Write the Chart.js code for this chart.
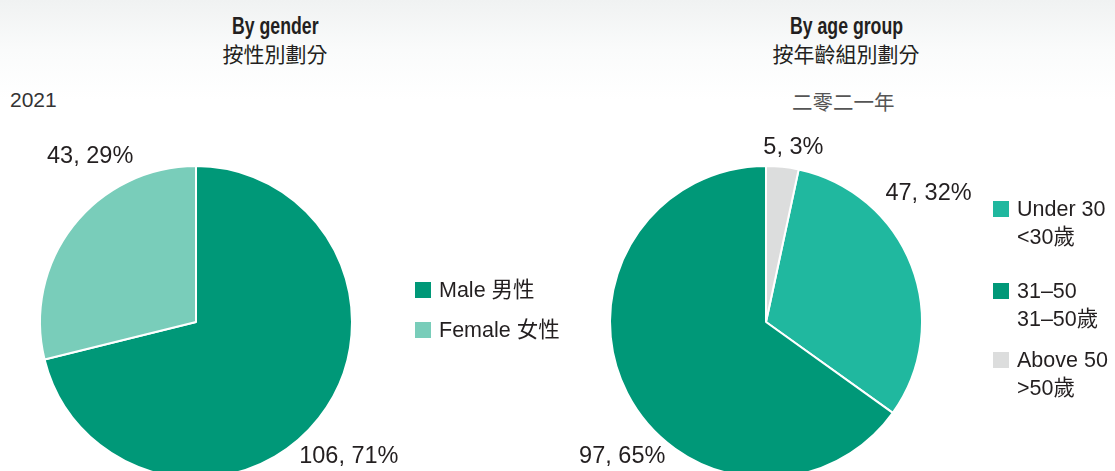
<!DOCTYPE html>
<html>
<head>
<meta charset="utf-8">
<script src="https://cdn.jsdelivr.net/npm/chart.js@4.4.0/dist/chart.umd.min.js"></script>
<style>
    html, body {
        margin: 0;
        padding: 0;
        width: 1115px;
        height: 471px;
        overflow: hidden;
        background: linear-gradient(#f0f2f2 0px, #fafbfb 50px, #ffffff 100px);
        font-family: "Liberation Sans", "Noto Sans CJK TC", sans-serif;
        color: #231f20;
    }
    canvas {
        position: absolute;
        top: 0;
    }
    .title {
        position: absolute;
        top: 14px;
        width: 300px;
        text-align: center;
        line-height: 24px;
    }
    .title .en {
        display: inline-block;
        font-family: "Liberation Sans", sans-serif;
        font-weight: bold;
        font-size: 23px;
        transform: scaleX(0.77);
    }
    .title .zh {
        font-family: "Noto Sans CJK TC", sans-serif;
        font-size: 21px;
    }
    .year {
        position: absolute;
        font-size: 21px;
        color: #333;
    }
    .legend-item {
        position: absolute;
        font-size: 21.5px;
        line-height: 28px;
        color: #231f20;
    }
    .legend-item .swatch {
        position: absolute;
        left: 0;
        top: 6px;
        width: 16px;
        height: 16px;
    }
    .legend-item .text {
        margin-left: 24px;
        white-space: nowrap;
    }
</style>
</head>
<body>
<div class="title" style="left: 125px;"><div class="en">By gender</div><div class="zh">按性別劃分</div></div>
<div class="title" style="left: 696px;"><div class="en">By age group</div><div class="zh">按年齡組別劃分</div></div>
<div class="year" style="left: 10px; top: 88px;">2021</div>
<div class="year" style="left: 792px; top: 86px; font-family: 'Noto Sans CJK TC'; font-size: 20.5px; color: #555;">二零二一年</div>

<canvas id="gender-chart" width="560" height="520" style="left: 0px;"></canvas>
<canvas id="age-chart" width="555" height="520" style="left: 560px;"></canvas>

<div id="gender-legend"></div>
<div id="age-legend"></div>

<script>
// Data
const genderLabels = ['Male 男性', 'Female 女性'];
const genderValues = [106, 43];
const genderPercents = [71, 29];

const ageLabelsEn = ['Under 30', '31–50', 'Above 50'];
const ageLabelsZh = ['<30歲', '31–50歲', '>50歲'];
const ageValues = [47, 97, 5];
const agePercents = [32, 65, 3];

// Styles
const genderColors = ['#009878', '#79cdba'];
const ageColors = ['#20b89f', '#009878', '#dcdddd'];

// where each value label sits, relative to the middle of its arc's rim
const genderLabelNudge = [[30, 45], [17, -63]];
const ageLabelNudge = [[17, -66], [-5, 70], [11, -13]];

const genderLegendTops = [282, 322];
const ageLegendTops = [195, 277, 346];

const valueLabelsPlugin = {
    id: 'valueLabels',
    afterDatasetsDraw(chart, args, opts) {
        const ctx = chart.ctx;
        const meta = chart.getDatasetMeta(0);
        const values = chart.data.datasets[0].data;

        ctx.save();
        ctx.font = '23.5px "Liberation Sans", sans-serif';
        ctx.fillStyle = '#231f20';
        ctx.textAlign = 'center';
        ctx.textBaseline = 'alphabetic';

        meta.data.forEach((arc, i) => {
            const { x, y, startAngle, endAngle, outerRadius } = arc.getProps(['x', 'y', 'startAngle', 'endAngle', 'outerRadius'], true);
            const mid = (startAngle + endAngle) / 2;
            const nudge = opts.nudges[i];
            const lx = x + Math.cos(mid) * outerRadius + nudge[0];
            const ly = y + Math.sin(mid) * outerRadius + nudge[1];
            ctx.fillText(`${values[i]}, ${opts.percents[i]}%`, lx, ly);
        });
        ctx.restore();
    }
};

const makePie = (canvasId, values, colors, padding, rotation, pluginOptions) => {
    const context = document.getElementById(canvasId).getContext('2d');

    return new Chart(context, {
        type: 'pie',
        data: {
            datasets: [
                {
                    data: values,
                    backgroundColor: colors,
                    borderColor: '#ffffff',
                    borderWidth: 2,
                }
            ]
        },
        options: {
            responsive: false,
            animation: false,
            radius: 156,
            rotation: rotation,
            layout: {
                padding: padding
            },
            plugins: {
                legend: { display: false },
                tooltip: { enabled: false },
                valueLabels: pluginOptions
            }
        },
        plugins: [valueLabelsPlugin]
    });
};

// Above 50 sits just right of 12 o'clock, so start Under 30 after it
const total = ageValues.reduce((accumulator, value) => accumulator + value, 0);
const ageRotation = ageValues[2] / total * 360;

makePie(
    'gender-chart',
    genderValues,
    genderColors,
    { left: 40, right: 208, top: 166, bottom: 42 },
    0,
    { nudges: genderLabelNudge, percents: genderPercents }
);

makePie(
    'age-chart',
    ageValues,
    ageColors,
    { left: 50, right: 193, top: 166, bottom: 42 },
    ageRotation,
    { nudges: ageLabelNudge, percents: agePercents }
);

// Legends
const genderLegend = document.getElementById('gender-legend');
genderLabels.forEach((label, i) => {
    const item = document.createElement('div');
    item.className = 'legend-item';
    item.style.left = '415px';
    item.style.top = (genderLegendTops[i] - 6) + 'px';
    item.innerHTML = `<span class="swatch" style="background:${genderColors[i]}"></span><div class="text">${label}</div>`;
    genderLegend.appendChild(item);
});

const ageLegend = document.getElementById('age-legend');
ageLabelsEn.forEach((label, i) => {
    const item = document.createElement('div');
    item.className = 'legend-item';
    item.style.left = '993px';
    item.style.top = ageLegendTops[i] + 'px';
    const zh = ageLabelsZh[i].replace('<', '&lt;').replace('>', '&gt;');
    item.innerHTML = `<span class="swatch" style="background:${ageColors[i]}"></span><div class="text">${label}<br>${zh}</div>`;
    ageLegend.appendChild(item);
});
</script>
</body>
</html>
